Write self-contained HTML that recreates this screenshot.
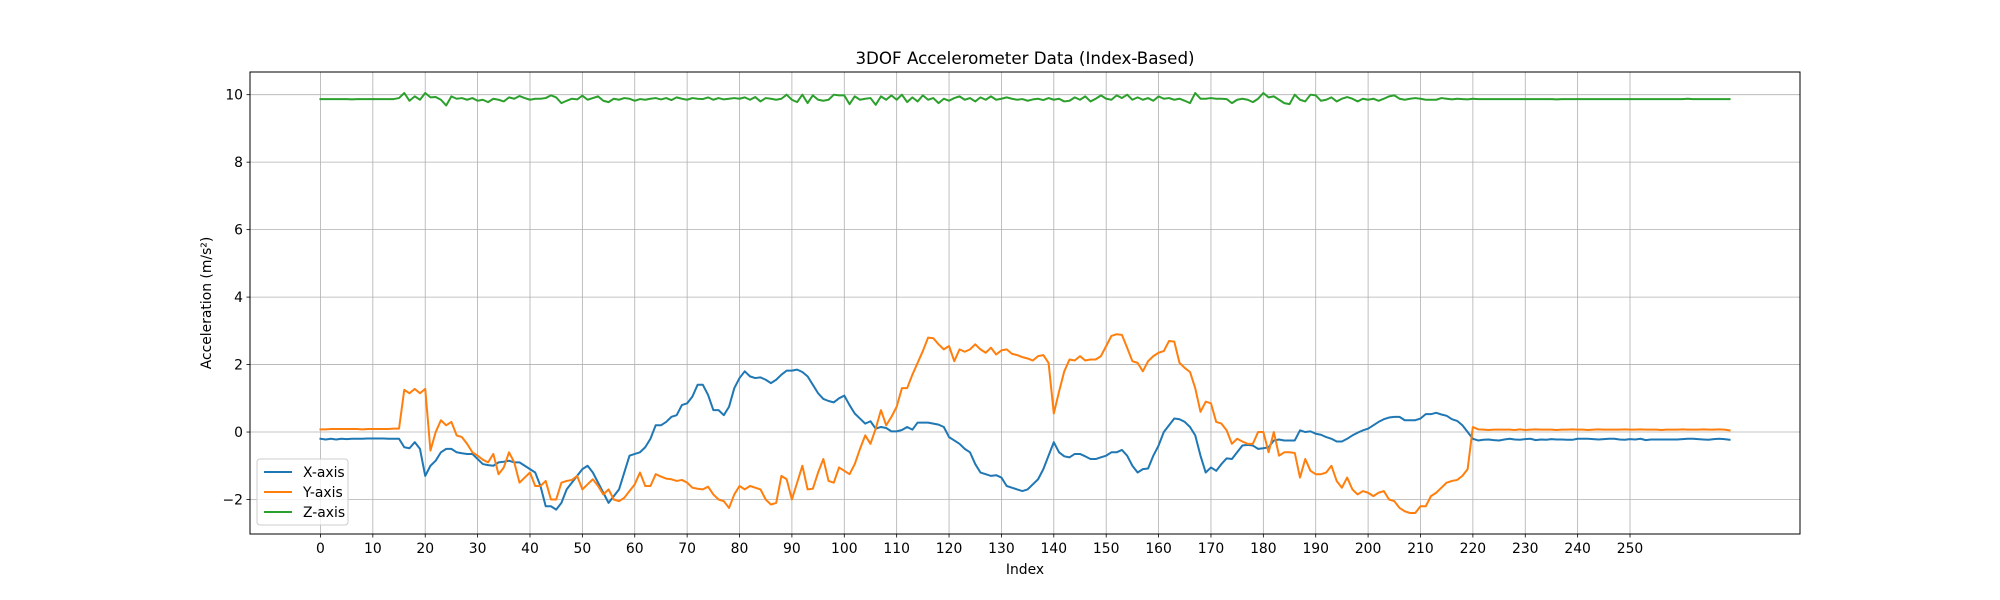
<!DOCTYPE html>
<html><head><meta charset="utf-8">
<style>
html,body{margin:0;padding:0;background:#fff;}
svg{display:block;font-family:"DejaVu Sans","Liberation Sans",sans-serif;}
</style></head>
<body>
<svg id="chart" width="2000" height="600" viewBox="0 0 2000 600" xmlns="http://www.w3.org/2000/svg">
<rect width="2000" height="600" fill="#fff"/>
<g id="grid"></g>
<g id="series"></g>
<rect x="250" y="72" width="1550" height="462" fill="none" stroke="#000" stroke-width="1"/>
<g id="ticks"></g>
<text x="1025" y="64" text-anchor="middle" font-size="16.7">3DOF Accelerometer Data (Index-Based)</text>
<text x="1025" y="574" text-anchor="middle" font-size="13.9">Index</text>
<text transform="translate(211,303) rotate(-90)" text-anchor="middle" font-size="13.9">Acceleration (m/s²)</text>
<g>
<rect x="257" y="459" width="91" height="66" rx="3" fill="#fff" fill-opacity="0.8" stroke="#ccc"/>
<g><line x1="264" y1="472" x2="292" y2="472" stroke="#1f77b4" stroke-width="2"/><text x="303" y="477" font-size="13.9">X-axis</text></g>
<g><line x1="264" y1="492" x2="292" y2="492" stroke="#ff7f0e" stroke-width="2"/><text x="303" y="497" font-size="13.9">Y-axis</text></g>
<g><line x1="264" y1="512" x2="292" y2="512" stroke="#2ca02c" stroke-width="2"/><text x="303" y="517" font-size="13.9">Z-axis</text></g>
</g>
</svg>
<script>
const xTicks=[0,10,20,30,40,50,60,70,80,90,100,110,120,130,140,150,160,170,180,190,200,210,220,230,240,250];
const yTicks=[-2,0,2,4,6,8,10];
const xSeries=[-0.2,-0.22,-0.2,-0.22,-0.2,-0.21,-0.2,-0.2,-0.2,-0.19,-0.19,-0.19,-0.19,-0.2,-0.2,-0.2,
-0.45,-0.48,-0.3,-0.5,-1.3,-1.0,-0.85,-0.6,-0.5,-0.5,-0.6,-0.63,-0.65,-0.65,
-0.8,-0.95,-0.98,-1.0,-0.9,-0.88,-0.85,-0.9,-0.9,-1.0,
-1.1,-1.2,-1.6,-2.2,-2.2,-2.3,-2.1,-1.7,-1.5,-1.3,
-1.1,-1.0,-1.2,-1.5,-1.8,-2.1,-1.9,-1.7,-1.2,-0.7,
-0.65,-0.6,-0.45,-0.2,0.2,0.2,0.3,0.45,0.5,0.8,
0.85,1.05,1.4,1.4,1.1,0.65,0.65,0.5,0.75,1.3,
1.6,1.8,1.65,1.6,1.62,1.55,1.45,1.55,1.7,1.82,
1.82,1.85,1.78,1.65,1.4,1.15,0.98,0.92,0.88,1.0,
1.08,0.8,0.55,0.4,0.25,0.32,0.1,0.15,0.12,0.02,
0.02,0.06,0.15,0.07,0.28,0.28,0.28,0.25,0.22,0.15,
-0.15,-0.25,-0.35,-0.5,-0.6,-0.95,-1.2,-1.25,-1.3,-1.28,
-1.35,-1.6,-1.65,-1.7,-1.75,-1.7,-1.55,-1.4,-1.1,-0.7,
-0.3,-0.6,-0.72,-0.75,-0.65,-0.65,-0.72,-0.8,-0.8,-0.75,
-0.7,-0.6,-0.6,-0.53,-0.7,-1.0,-1.2,-1.1,-1.08,-0.7,
-0.4,0.0,0.2,0.4,0.38,0.3,0.15,-0.1,-0.7,-1.2,
-1.05,-1.15,-0.95,-0.78,-0.8,-0.6,-0.4,-0.38,-0.4,-0.5,
-0.48,-0.45,-0.25,-0.22,-0.25,-0.25,-0.25,0.05,0.0,0.02,
-0.05,-0.08,-0.15,-0.2,-0.28,-0.28,-0.2,-0.1,-0.02,0.05,
0.1,0.2,0.3,0.38,0.43,0.45,0.45,0.35,0.35,0.35,
0.4,0.53,0.53,0.57,0.52,0.48,0.38,0.33,0.2,0.0,
-0.2,-0.25,-0.23,-0.22,-0.24,-0.25,-0.22,-0.2,-0.22,-0.23,
-0.21,-0.2,-0.24,-0.22,-0.23,-0.21,-0.22,-0.22,-0.23,-0.23,
-0.2,-0.2,-0.2,-0.21,-0.22,-0.21,-0.2,-0.2,-0.22,-0.23,
-0.21,-0.22,-0.2,-0.24,-0.22,-0.22,-0.22,-0.22,-0.22,-0.22,
-0.21,-0.2,-0.2,-0.21,-0.22,-0.23,-0.21,-0.2,-0.21,-0.23];
const ySeries=[0.08,0.08,0.09,0.09,0.09,0.09,0.09,0.09,0.08,0.09,0.09,0.09,0.09,0.09,0.1,0.1,
1.25,1.15,1.28,1.15,1.28,-0.55,0.0,0.35,0.2,0.3,-0.1,-0.15,-0.35,-0.6,
-0.7,-0.82,-0.9,-0.65,-1.25,-1.05,-0.6,-0.9,-1.5,-1.35,
-1.2,-1.6,-1.6,-1.45,-2.0,-2.0,-1.5,-1.45,-1.42,-1.3,
-1.7,-1.55,-1.4,-1.6,-1.85,-1.7,-2.0,-2.05,-1.95,-1.75,
-1.55,-1.2,-1.6,-1.6,-1.25,-1.32,-1.38,-1.4,-1.45,-1.42,
-1.5,-1.65,-1.68,-1.7,-1.62,-1.85,-2.0,-2.05,-2.25,-1.85,
-1.6,-1.7,-1.6,-1.65,-1.7,-2.0,-2.15,-2.1,-1.3,-1.4,
-2.0,-1.5,-1.0,-1.7,-1.68,-1.2,-0.8,-1.45,-1.5,-1.05,
-1.15,-1.25,-0.95,-0.5,-0.1,-0.35,0.1,0.65,0.2,0.45,
0.75,1.3,1.3,1.7,2.05,2.4,2.8,2.78,2.6,2.45,
2.55,2.1,2.45,2.38,2.45,2.6,2.45,2.35,2.5,2.3,
2.42,2.45,2.32,2.28,2.22,2.18,2.12,2.25,2.28,2.05,
0.55,1.2,1.8,2.15,2.12,2.25,2.12,2.15,2.15,2.25,
2.55,2.85,2.9,2.88,2.5,2.1,2.05,1.8,2.1,2.25,
2.35,2.4,2.7,2.68,2.05,1.9,1.78,1.3,0.6,0.9,
0.85,0.3,0.25,0.05,-0.35,-0.2,-0.28,-0.35,-0.35,0.0,
0.0,-0.6,0.0,-0.7,-0.6,-0.6,-0.62,-1.35,-0.8,-1.15,
-1.25,-1.25,-1.2,-1.0,-1.45,-1.65,-1.35,-1.7,-1.85,-1.75,
-1.8,-1.9,-1.8,-1.75,-2.0,-2.05,-2.25,-2.35,-2.4,-2.4,
-2.2,-2.2,-1.9,-1.8,-1.65,-1.5,-1.45,-1.42,-1.3,-1.1,
0.15,0.08,0.07,0.06,0.07,0.07,0.07,0.07,0.06,0.08,
0.06,0.07,0.08,0.07,0.07,0.07,0.06,0.07,0.07,0.08,
0.07,0.07,0.06,0.07,0.08,0.07,0.07,0.07,0.07,0.08,
0.07,0.07,0.08,0.07,0.07,0.07,0.06,0.07,0.07,0.07,
0.08,0.07,0.07,0.07,0.08,0.07,0.07,0.08,0.07,0.05];
const zSeries=[9.87,9.87,9.87,9.87,9.87,9.87,9.86,9.87,9.87,9.87,9.87,9.87,9.87,9.87,9.87,9.9,
10.05,9.82,9.95,9.85,10.05,9.92,9.93,9.85,9.68,9.95,9.88,9.9,9.85,9.9,
9.82,9.85,9.78,9.88,9.85,9.8,9.92,9.88,9.96,9.9,
9.85,9.88,9.88,9.9,9.98,9.92,9.75,9.82,9.88,9.86,
9.97,9.85,9.9,9.95,9.82,9.78,9.88,9.85,9.9,9.88,
9.82,9.87,9.85,9.88,9.9,9.86,9.9,9.84,9.92,9.88,
9.85,9.9,9.88,9.87,9.92,9.85,9.9,9.86,9.88,9.9,
9.88,9.92,9.85,9.93,9.8,9.9,9.88,9.85,9.88,10.0,
9.85,9.78,10.0,9.75,9.98,9.85,9.82,9.85,10.0,9.98,
9.98,9.72,9.95,9.85,9.88,9.9,9.7,9.95,9.85,9.98,
9.85,10.0,9.78,9.92,9.8,9.98,9.85,9.9,9.75,9.88,
9.82,9.9,9.95,9.85,9.9,9.8,9.92,9.85,9.95,9.85,
9.88,9.92,9.88,9.85,9.87,9.82,9.86,9.88,9.84,9.9,
9.85,9.88,9.8,9.82,9.92,9.85,9.95,9.8,9.88,9.98,
9.88,9.85,9.98,9.9,10.0,9.85,9.92,9.85,9.9,9.82,
9.95,9.88,9.9,9.85,9.88,9.82,9.75,10.05,9.88,9.88,
9.9,9.88,9.88,9.87,9.75,9.85,9.88,9.85,9.78,9.88,
10.05,9.92,9.95,9.85,9.75,9.72,10.0,9.85,9.8,10.0,
9.98,9.82,9.85,9.92,9.8,9.88,9.93,9.88,9.8,9.88,
9.85,9.88,9.82,9.88,9.95,9.98,9.88,9.85,9.88,9.9,
9.88,9.85,9.85,9.85,9.9,9.88,9.86,9.88,9.87,9.86,
9.88,9.87,9.87,9.87,9.87,9.87,9.87,9.87,9.87,9.87,
9.87,9.87,9.87,9.87,9.87,9.87,9.86,9.87,9.87,9.87,
9.87,9.87,9.87,9.87,9.87,9.87,9.87,9.87,9.87,9.87,
9.87,9.87,9.87,9.87,9.87,9.87,9.87,9.87,9.87,9.87,
9.87,9.88,9.87,9.87,9.87,9.87,9.87,9.87,9.87,9.87];

const NS='http://www.w3.org/2000/svg';
const L=250,R=1800,T=72,B=534;
const n=xSeries.length;
const xmin=-0.05*(n-1), xmax=(n-1)*1.05;
const all=xSeries.concat(ySeries,zSeries);
const dmin=Math.min(...all), dmax=Math.max(...all);
const ymin=dmin-0.05*(dmax-dmin), ymax=dmax+0.05*(dmax-dmin);
function sx(v){return L+(v-xmin)/(xmax-xmin)*(R-L);}
function sy(v){return B-(v-ymin)/(ymax-ymin)*(B-T);}
function mk(tag,attrs,parent){const e=document.createElementNS(NS,tag);for(const k in attrs)e.setAttribute(k,attrs[k]);parent.appendChild(e);return e;}
const grid=document.getElementById('grid'),ticks=document.getElementById('ticks'),series=document.getElementById('series');
xTicks.forEach(t=>{
  const x=sx(t);
  const g=mk('line',{x1:x,x2:x,y1:T,y2:B,stroke:'#b0b0b0','stroke-width':0.8},grid);
  
  
  mk('line',{x1:x,x2:x,y1:B,y2:B+3.5,stroke:'#000','stroke-width':0.8},ticks);
  const tx=mk('text',{x:x,y:B+19,'text-anchor':'middle','font-size':13.9},ticks);
  tx.textContent=t;
  
  
});
yTicks.forEach(t=>{
  const y=sy(t);
  const g=mk('line',{x1:L,x2:R,y1:y,y2:y,stroke:'#b0b0b0','stroke-width':0.8},grid);
  
  
  mk('line',{x1:L-3.5,x2:L,y1:y,y2:y,stroke:'#000','stroke-width':0.8},ticks);
  const tx=mk('text',{x:L-7,y:y+5,'text-anchor':'end','font-size':13.9},ticks);
  tx.textContent=(t<0?'\u2212'+(-t):t);
  
  
});
function line(arr,color,name){
  const d=arr.map((v,i)=>(i?'L':'M')+sx(i).toFixed(2)+' '+sy(v).toFixed(2)).join(' ');
  const p=mk('path',{d:d,fill:'none',stroke:color,'stroke-width':2,'stroke-linejoin':'round','stroke-linecap':'square'},series);
  
  
}
line(xSeries,'#1f77b4','x-axis-line');
line(ySeries,'#ff7f0e','y-axis-line');
line(zSeries,'#2ca02c','z-axis-line');
</script>
</body></html>
